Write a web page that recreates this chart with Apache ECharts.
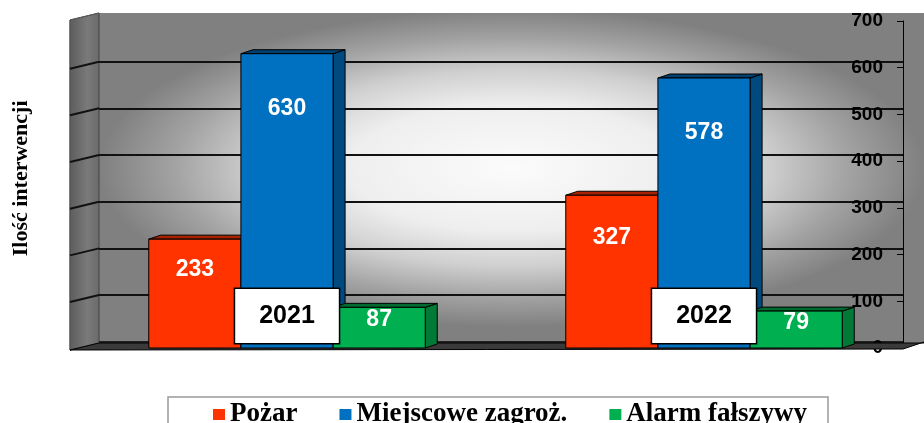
<!DOCTYPE html>
<html>
<head>
<meta charset="utf-8">
<script src="https://cdn.jsdelivr.net/npm/echarts@6/dist/echarts.min.js"></script>
<style>
  html, body { margin: 0; padding: 0; background: #fff; }
  #chart { width: 924px; height: 423px; }
</style>
</head>
<body>
<div id="chart"></div>
<script>
// dane
const years = ['2021', '2022'];
const seriesNames = ['Pożar', 'Miejscowe zagroż.', 'Alarm fałszywy'];
const pozar = [233, 327];
const miejscowe = [630, 578];
const alarm = [87, 79];
const yTicks = [0, 100, 200, 300, 400, 500, 600, 700];

const chart = echarts.init(document.getElementById('chart'));

const sans = '"Liberation Sans", Arial, sans-serif';
const serif = '"Liberation Serif", "Times New Roman", serif';

// przód, bok, góra
const colors = [
  ['#FF3300', '#C42800', '#A82200'],
  ['#0070C0', '#004A80', '#003F6E'],
  ['#00B050', '#007A36', '#006B30']
];

function bar3d(slot, c) {
  return function (params, api) {
    const cat = api.value(0);
    const val = api.value(1);
    const base = api.coord([cat, 0]);
    const head = api.coord([cat, val]);
    const band = api.size([1, 0])[0];
    const w = band * 0.221;
    const x0 = base[0] - 1.5 * w + slot * w;
    const dx = 12, dy = 4;
    const h = base[1] - head[1];
    const off = Math.max(12, Math.min(h * 0.28, 55));
    return {
      type: 'group',
      children: [
        {
          type: 'polygon',
          shape: { points: [[x0 + w, head[1]], [x0 + w + dx, head[1] - dy], [x0 + w + dx, base[1] - dy], [x0 + w, base[1]]] },
          style: { fill: c[1], stroke: '#000', lineWidth: 1 }
        },
        {
          type: 'polygon',
          shape: { points: [[x0, head[1]], [x0 + dx, head[1] - dy], [x0 + w + dx, head[1] - dy], [x0 + w, head[1]]] },
          style: { fill: c[2], stroke: '#000', lineWidth: 1 }
        },
        {
          type: 'rect',
          shape: { x: x0, y: head[1], width: w, height: h },
          style: { fill: c[0], stroke: '#000', lineWidth: 1 }
        },
        {
          type: 'text',
          x: x0 + w / 2,
          y: head[1] + off,
          style: {
            text: String(val), fill: '#fff', fontSize: 23, fontWeight: 'bold',
            fontFamily: sans, align: 'center', verticalAlign: 'middle'
          }
        }
      ]
    };
  };
}

const values = [pozar, miejscowe, alarm];
const series = seriesNames.map((name, i) => ({
  name: name,
  type: 'custom',
  xAxisIndex: 1,
  yAxisIndex: 1,
  itemStyle: { color: colors[i][0] },
  encode: { x: 0, y: 1 },
  data: years.map((y, j) => [j, values[i][j]]),
  renderItem: bar3d(i, colors[i])
}));

// tło
const baseGraphic = [
  {
    id: 'wall', type: 'rect', z: -10, x: 99, y: 13, scaleX: 2.6,
    shape: { x: 0, y: 0, width: 825 / 2.6, height: 330 },
    style: {
      fill: new echarts.graphic.RadialGradient(0.5, 0.47, 0.5, [
        { offset: 0, color: '#fbfbfb' },
        { offset: 0.4, color: '#eeeeee' },
        { offset: 0.62, color: '#cfcfcf' },
        { offset: 0.82, color: '#a2a2a2' },
        { offset: 1, color: '#808080' }
      ])
    }
  },
  {
    id: 'side', type: 'polygon', z: -10,
    shape: { points: [[70, 20], [99, 13], [99, 343], [70, 350]] },
    style: {
      fill: new echarts.graphic.LinearGradient(0, 0, 1, 0, [
        { offset: 0, color: '#5c5c5c' },
        { offset: 0.6, color: '#7a7a7a' },
        { offset: 1, color: '#6a6a6a' }
      ]),
      stroke: '#555', lineWidth: 1
    }
  },
  {
    id: 'floor', type: 'polygon', z: 1,
    shape: { points: [[70, 350], [99, 343], [924, 343], [924, 342], [903, 349]] },
    style: { fill: '#3a3a3a', stroke: '#000', lineWidth: 1 }
  },
  {
    id: 'legendBox', type: 'rect', z: -5,
    shape: { x: 168, y: 397, width: 660, height: 40 },
    style: { fill: '#fff', stroke: '#9a9a9a', lineWidth: 1.5 }
  }
];

const option = {
  animation: false,
  backgroundColor: '#fff',
  grid: [
    { left: 99, right: 21, top: 15, bottom: 81.3 },
    { left: 78.5, right: 11.5, top: 21, bottom: 75 }
  ],
  legend: {
    data: seriesNames,
    left: 213,
    top: 401,
    padding: 0,
    icon: 'rect',
    itemWidth: 12,
    itemHeight: 11,
    itemGap: 42,
    textStyle: { fontFamily: serif, fontWeight: 'bold', fontSize: 27, color: '#000' }
  },
  xAxis: [
    { gridIndex: 0, type: 'category', data: years, show: false },
    {
      gridIndex: 1,
      type: 'category',
      data: years,
      z: 10,
      axisLine: { show: false },
      axisTick: { show: false },
      axisLabel: {
        inside: true,
        margin: 5,
        color: '#000',
        fontFamily: sans,
        fontWeight: 'bold',
        fontSize: 25,
        lineHeight: 26,
        backgroundColor: '#fff',
        borderColor: '#000',
        borderWidth: 1.5,
        padding: [14, 24, 14, 24]
      }
    }
  ],
  yAxis: [
    {
      gridIndex: 0,
      type: 'value',
      min: yTicks[0],
      max: yTicks[yTicks.length - 1],
      interval: yTicks[1] - yTicks[0],
      axisLine: { show: false },
      axisTick: { show: false },
      axisLabel: { show: false },
      splitLine: {
        lineStyle: {
          color: ['#222', '#111', '#111', '#111', '#111', '#111', '#111', 'rgba(0,0,0,0)'],
          width: 2
        }
      },
      name: 'Ilość interwencji',
      nameLocation: 'middle',
      nameRotate: 90,
      nameGap: 67,
      nameTextStyle: { fontFamily: serif, fontWeight: 'bold', fontSize: 22, color: '#000' }
    },
    {
      gridIndex: 1,
      type: 'value',
      position: 'right',
      offset: -9.5,
      min: yTicks[0],
      max: yTicks[yTicks.length - 1],
      interval: yTicks[1] - yTicks[0],
      axisLine: { show: true, lineStyle: { color: '#000', width: 1 } },
      axisTick: { show: true, inside: true, length: 6, lineStyle: { color: '#000' } },
      axisLabel: {
        inside: true,
        margin: 20,
        color: '#000',
        fontFamily: sans,
        fontWeight: 'bold',
        fontSize: 19,
        formatter: v => String(v)
      },
      splitLine: { show: false }
    }
  ],
  graphic: { elements: baseGraphic },
  series: series
};

chart.setOption(option);

// linie siatki na bocznej ścianie
const sideLines = yTicks.slice(1, -1).map((v, i) => {
  const y = chart.convertToPixel({ yAxisIndex: 0 }, v);
  return {
    id: 'sl' + i, type: 'line', z: -9,
    shape: { x1: 70, y1: y + 7, x2: 99, y2: y },
    style: { stroke: '#111', lineWidth: 2 }
  };
});
chart.setOption({ graphic: { elements: baseGraphic.concat(sideLines) } });
</script>
</body>
</html>
